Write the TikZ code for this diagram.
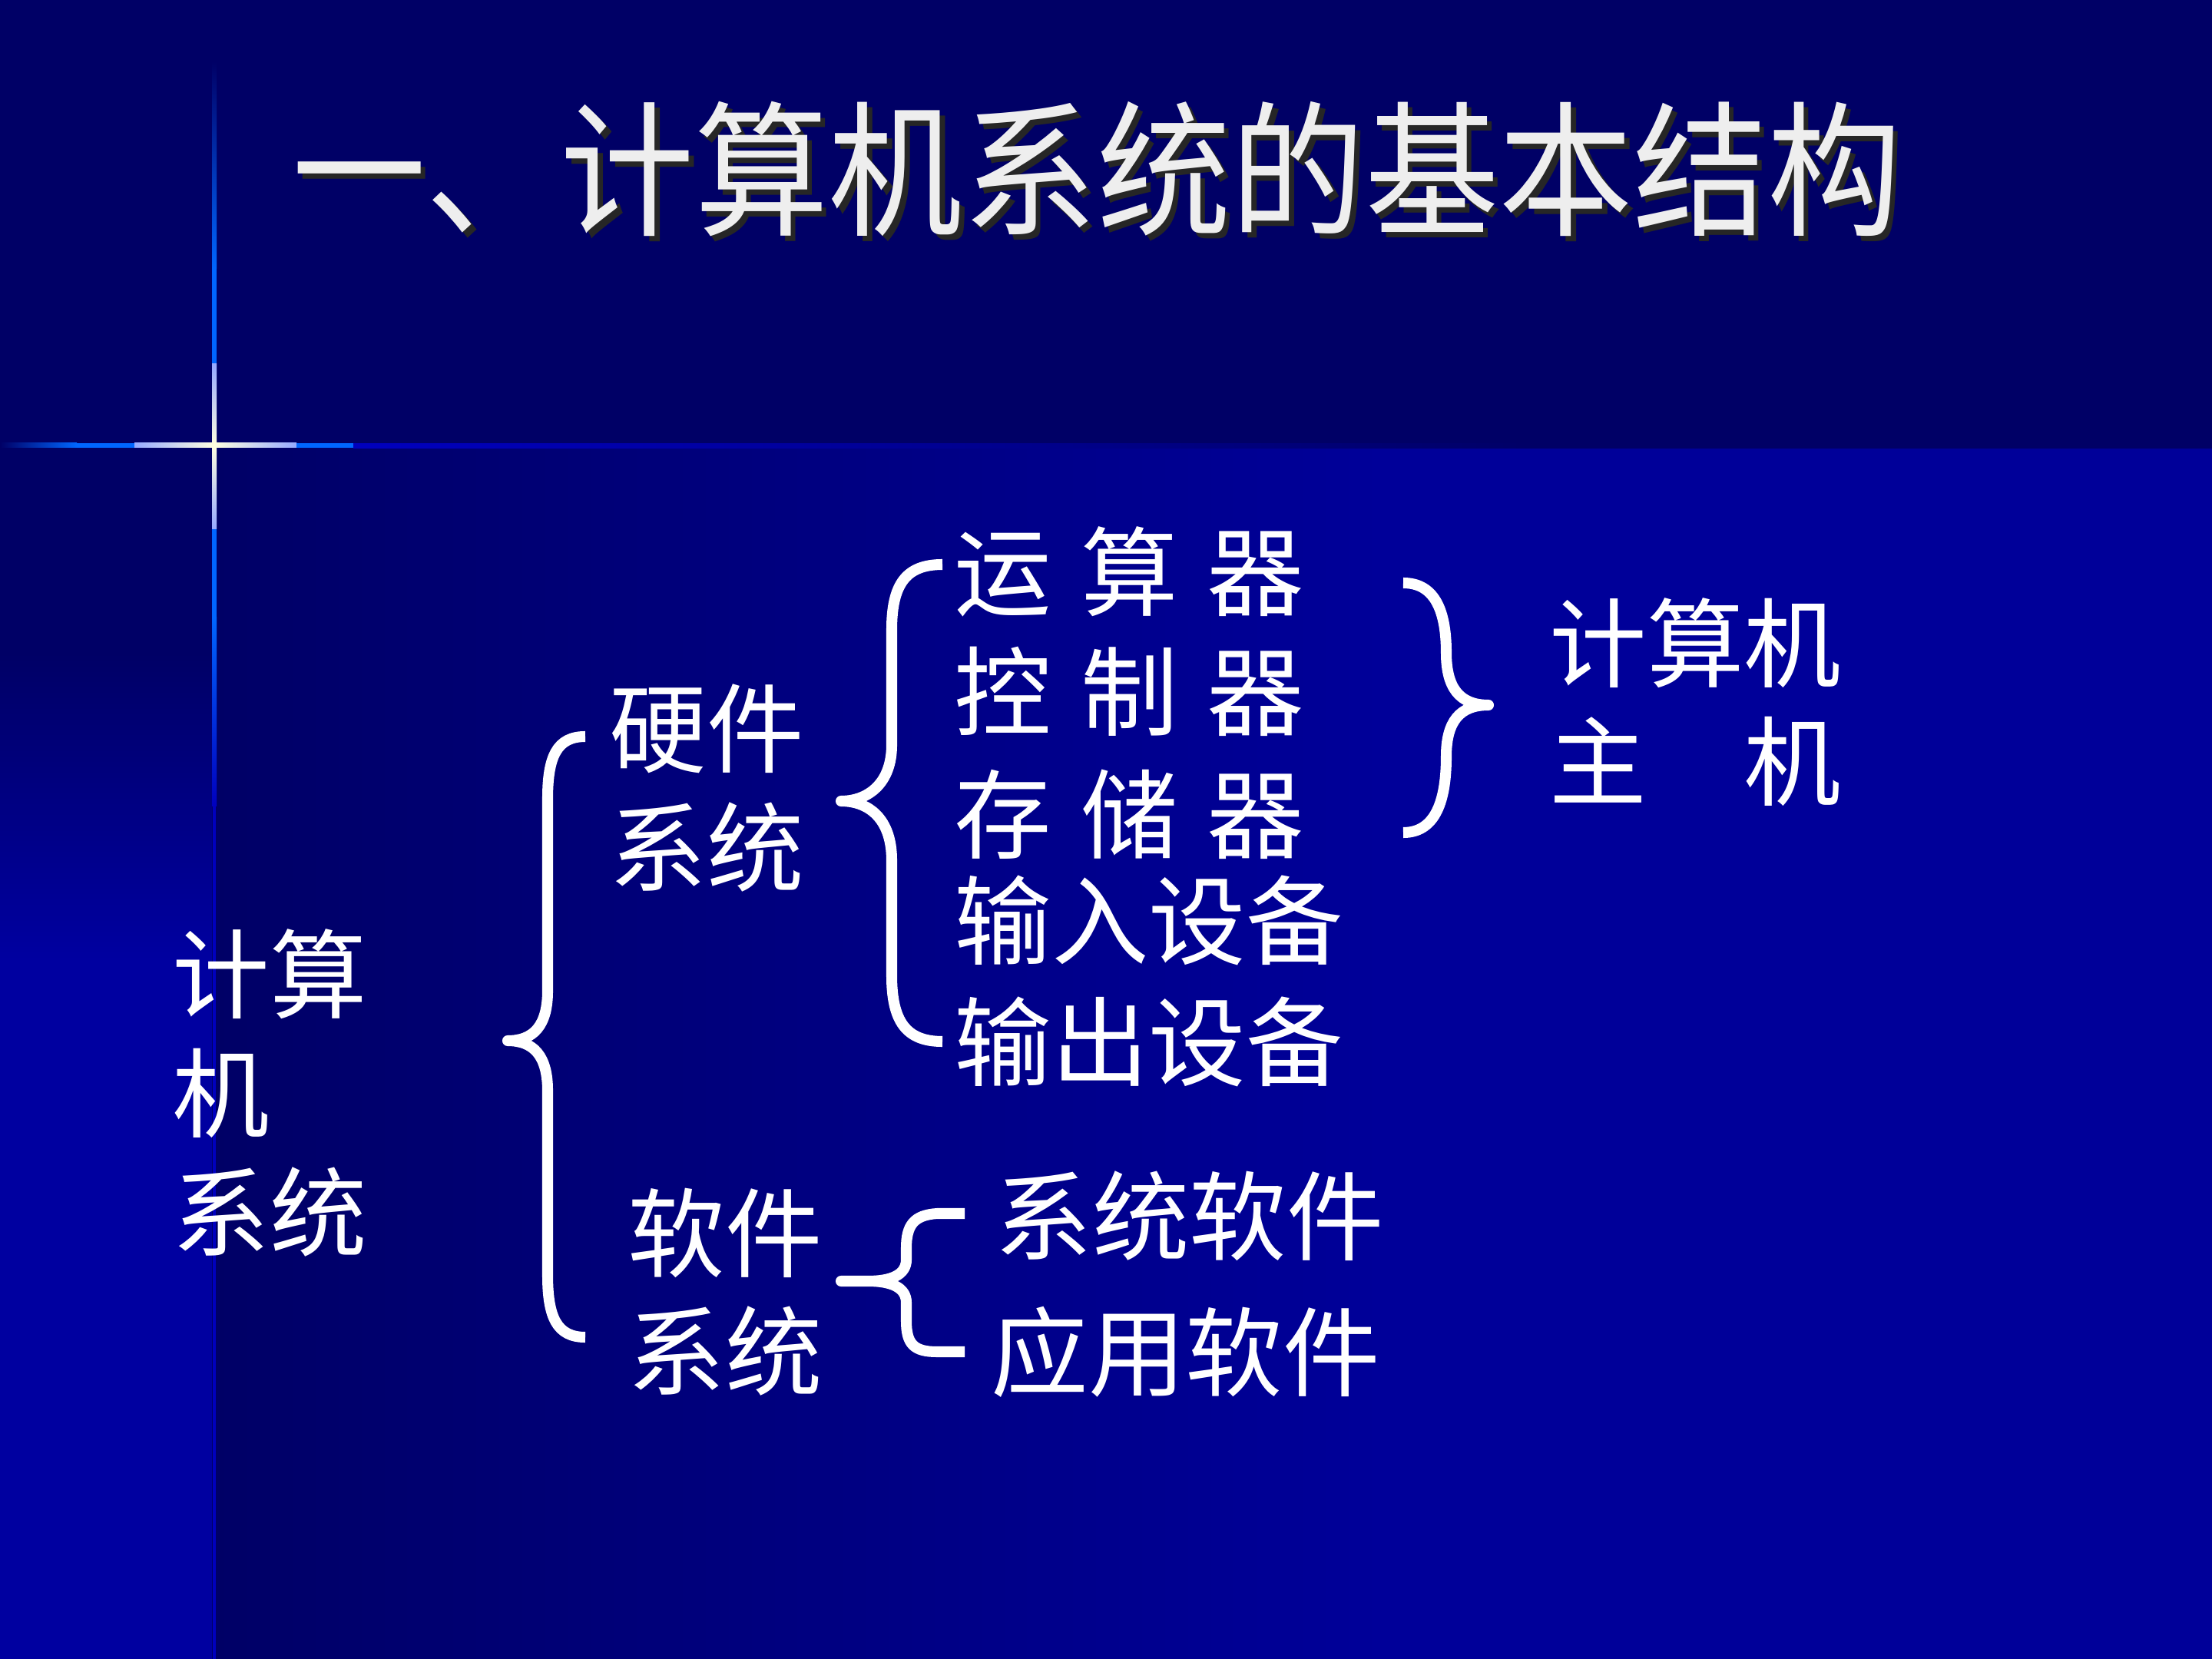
\documentclass[tikz,border=0pt]{standalone}
\usepackage{fontspec}
\newfontfamily\cjk{Noto Sans CJK SC}
\usepackage{tikz}
\usetikzlibrary{positioning}
\definecolor{bgtop}{RGB}{0,0,102}
\definecolor{bgblue}{RGB}{0,0,153}
\definecolor{stripblue}{RGB}{0,0,160}
\definecolor{edgeblue}{RGB}{0,0,190}
\definecolor{glowblue}{RGB}{0,102,255}
\definecolor{glowpale}{RGB}{150,170,255}
\definecolor{glowcream}{RGB}{255,255,225}
\definecolor{titlegray}{RGB}{238,238,238}

\begin{document}
\begin{tikzpicture}[x=1cm,y=-1cm,
	txt/.style={text=white,inner sep=0pt,anchor=west,align=left,font=\cjk\fontsize{36}{44}\selectfont},
	curly/.style={draw=white,line width=4pt,line cap=butt,line join=round}]
\useasboundingbox (0,0) rectangle (28.8,21.6);

% background
\fill[bgtop] (0,0) rectangle (28.8,21.6);
\fill[left color=bgtop,right color=bgblue] (2.76,5.84) rectangle (18,21.6);
\fill[bgblue] (18,5.84) rectangle (28.8,21.6);
\fill[top color=bgtop,bottom color=stripblue] (0,8.5) rectangle (2.76,12.5);
\fill[stripblue] (0,12.5) rectangle (2.76,21.6);

% cross
\fill[top color=bgtop,bottom color=glowblue] (2.76,0.8) rectangle (2.82,3.5);
\fill[glowblue] (2.76,3.5) rectangle (2.82,4.74);
\fill[top color=glowpale,bottom color=glowcream] (2.76,4.74) rectangle (2.82,5.8);
\fill[top color=glowcream,bottom color=glowpale] (2.76,5.8) rectangle (2.82,6.89);
\fill[glowblue] (2.76,6.89) rectangle (2.82,8.04);
\fill[top color=glowblue,bottom color=edgeblue] (2.76,8.04) rectangle (2.82,10.5);
\fill[edgeblue] (2.77,10.5) rectangle (2.81,21.6);
\fill[left color=bgtop,right color=glowblue] (0,5.77) rectangle (1.0,5.83);
\fill[glowblue] (1.0,5.77) rectangle (1.75,5.83);
\fill[left color=glowpale,right color=glowcream] (1.75,5.77) rectangle (2.79,5.83);
\fill[left color=glowcream,right color=glowpale] (2.79,5.77) rectangle (3.86,5.83);
\fill[glowblue] (3.86,5.77) rectangle (4.6,5.83);
\fill[left color=edgeblue,right color=bgtop] (4.6,5.78) rectangle (20,5.84);

% title (shadow set inside the same node)
\node[text=titlegray,font=\cjk\fontsize{54}{60}\selectfont,xscale=.92] (title) at (14.28,2.24)
	{\makebox[0pt][l]{\hspace{.07cm}\raisebox{-.07cm}{\color{black!85}一、计算机系统的基本结构}}一、计算机系统的基本结构};

% tree
\node[txt] (root) at (2.24,14.23) {计算\\机\\系统};
\node[txt] (hw) at (7.93,10.26) {硬件\\系统};
\node[txt] (sw) at (8.17,16.82) {软件\\系统};
\node[txt] (alu) at (12.42,7.44) {运\hspace{.3em}算\hspace{.3em}器};
\node[txt] (ctl) at (12.42,9.00) {控\hspace{.3em}制\hspace{.3em}器};
\node[txt] (mem) at (12.42,10.60) {存\hspace{.3em}储\hspace{.3em}器};
\node[txt] (inp) at (12.42,11.98) {输入设备};
\node[txt] (outp) at (12.42,13.56) {输出设备};
\node[txt] (syssw) at (12.95,15.83) {系统软件};
\node[txt] (appsw) at (12.90,17.60) {应用软件};
\node[txt] (host) at (20.17,9.14) {计算机\\主　机};

% braces
\draw[curly] (7.62,9.59) .. controls (7.25,9.59) and (7.13,9.85) .. (7.13,10.4) -- (7.13,12.9)
	.. controls (7.13,13.35) and (6.95,13.55) .. (6.61,13.55)
	.. controls (6.95,13.55) and (7.13,13.75) .. (7.13,14.2) -- (7.13,16.6)
	.. controls (7.13,17.15) and (7.25,17.41) .. (7.62,17.41);
\draw[curly] (12.27,7.35) .. controls (11.8,7.35) and (11.61,7.6) .. (11.61,8.2) -- (11.61,9.7)
	.. controls (11.61,10.2) and (11.3,10.43) .. (10.95,10.43)
	.. controls (11.3,10.43) and (11.61,10.65) .. (11.61,11.2) -- (11.61,12.7)
	.. controls (11.61,13.3) and (11.8,13.56) .. (12.27,13.56);
\draw[curly] (18.27,7.59) .. controls (18.65,7.59) and (18.83,7.9) .. (18.83,8.5)
	.. controls (18.83,8.95) and (19.0,9.18) .. (19.38,9.18)
	.. controls (19.0,9.18) and (18.83,9.4) .. (18.83,9.85)
	.. controls (18.83,10.5) and (18.65,10.84) .. (18.27,10.84);
\draw[curly] (12.56,15.8) -- (12.2,15.8) .. controls (11.9,15.82) and (11.8,15.95) .. (11.8,16.25) -- (11.8,16.4)
	.. controls (11.8,16.6) and (11.6,16.68) .. (11.3,16.68) -- (10.95,16.68) -- (11.3,16.68)
	.. controls (11.6,16.68) and (11.8,16.76) .. (11.8,16.96) -- (11.8,17.2)
	.. controls (11.8,17.5) and (11.9,17.6) .. (12.2,17.6) -- (12.56,17.6);

\end{tikzpicture}
\end{document}
